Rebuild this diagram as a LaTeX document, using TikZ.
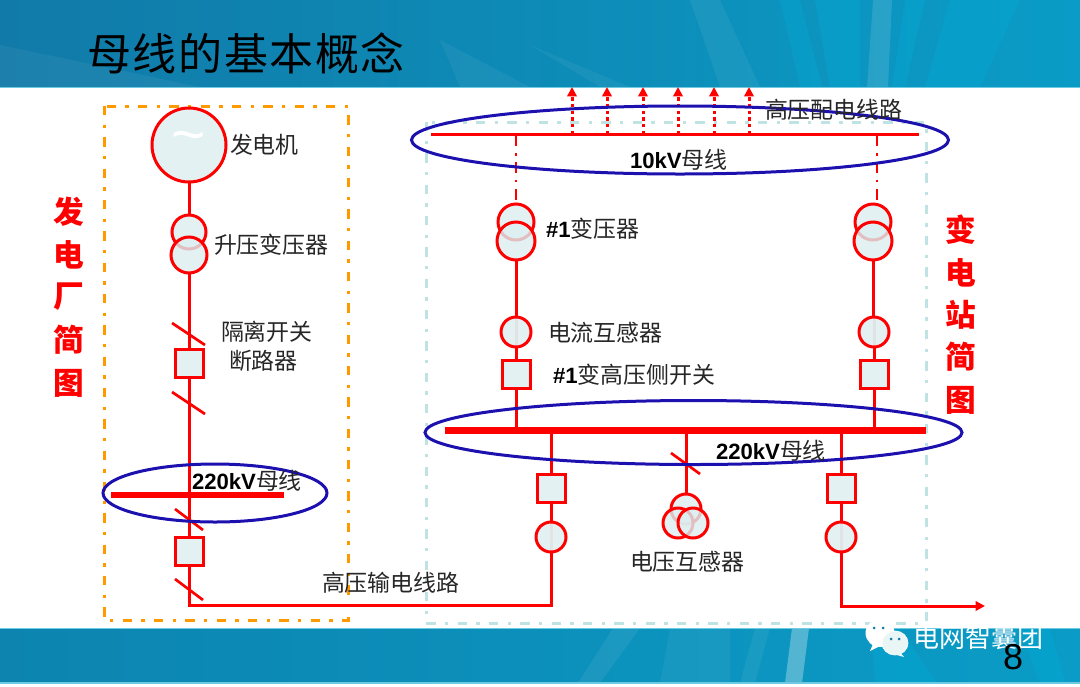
\documentclass[tikz,border=0pt]{standalone}
\usepackage{fontspec}
\setmainfont{Liberation Sans}
\newfontfamily\cjk{Noto Sans CJK SC}
\usetikzlibrary{shapes.geometric,arrows.meta,backgrounds}
\definecolor{elred}{HTML}{FF0000}
\definecolor{elblue}{HTML}{1C10AE}
\definecolor{elorange}{HTML}{FF9900}
\definecolor{elteal}{HTML}{BFE3E3}
\definecolor{elfill}{HTML}{DCEEF0}
\definecolor{bandA}{HTML}{117AA8}
\definecolor{bandB}{HTML}{0A9CC6}
\definecolor{bandC}{HTML}{0D84B0}
\definecolor{bandD}{HTML}{00B0DA}
\definecolor{bandE}{HTML}{6CCBE2}
\def\u{0.75pt}
\newcommand{\sz}[1]{\fontsize{#1}{#1}\selectfont}
\newcommand{\cj}[1]{{\cjk\mdseries\fontsize{17.2}{17.2}\selectfont\color{black!85}#1}}
\tikzset{
  x=0.75pt,y=-0.75pt,
  wire/.style={draw=elred,line width=2.25pt},
  faint/.style={draw=elred,line width=2.25pt,opacity=.3},
  tick/.style={draw=elred,line width=2pt},
  ringa/.style={circle,draw=elred,fill=elfill,fill opacity=.8,line width=2.25pt,inner sep=0pt,outer sep=0pt,minimum size=2*#1*\u},
  sqbox/.style={rectangle,draw=elred,fill=elfill,fill opacity=.8,line width=2.25pt,inner sep=0pt,outer sep=0pt,minimum size=28*\u},
  busbar/.style={rectangle,fill=elred,inner sep=0pt,outer sep=0pt},
  ring/.style={ellipse,draw=elblue,line width=2.25pt,inner sep=0pt,outer sep=0pt},
  lbl/.style={anchor=west,inner sep=0pt,outer sep=0pt,font=\sz{17.2}\cjk,text=black!85},
  blbl/.style={anchor=west,inner sep=0pt,outer sep=0pt,font=\sz{16.6}\bfseries,text=black},
  side/.style={inner sep=0pt,outer sep=0pt,font=\sz{23}\cjk\bfseries,text=elred},
  feeder/.style={draw=elred,line width=2.25pt,dash pattern=on 2.5pt off 2.5pt,-{Triangle[length=7pt,width=7pt]}},
  drop/.style={draw=elred,line width=2.2pt,dash pattern=on 8pt off 5pt on 2pt off 5pt},
  framebox/.style={line width=2.25pt,dash pattern=on 7pt off 7pt on 2.5pt off 7pt},
  rayl/.style={fill=bandD,fill opacity=.3},
  rayw/.style={fill=white,fill opacity=.12},
}
\begin{document}
\begin{tikzpicture}
\useasboundingbox (0,0) rectangle (1080,686);
% node layer ---------------------------------------------------------
\node[ringa=37] (gen) at (189,145) {};
\node[font=\sz{44},text=white,inner sep=0pt] (tilde) at (189,143) {\textasciitilde};
\node[ringa=17] (la) at (189,232) {};
\node[ringa=18] (lb) at (189,255) {};
\node[sqbox] (ls1) at (189,363) {};
\node[sqbox] (ls2) at (189,551) {};
\node[busbar,minimum width=173*\u,minimum height=6*\u] (lbus) at (197.5,495) {};
\node[ringa=18] (ra) at (516,222) {};
\node[ringa=19] (rb) at (516,241) {};
\node[ringa=18] (sa) at (873,222) {};
\node[ringa=19] (sb) at (873,241) {};
\node[ringa=15] (rc) at (516,332) {};
\node[ringa=15] (sc) at (874,332) {};
\node[sqbox] (rs) at (516,374) {};
\node[sqbox] (ss) at (874,374) {};
\node[busbar,minimum width=488*\u,minimum height=3*\u] (tbus) at (675,134) {};
\node[busbar,minimum width=481*\u,minimum height=7*\u] (hbus) at (685.5,430) {};
\node[sqbox] (fs) at (551,488) {};
\node[sqbox] (gs) at (841,488) {};
\node[ringa=15] (fc) at (551,537) {};
\node[ringa=15] (gc) at (841,537) {};
\node[ringa=15] (pt) at (686,509) {};
\node[ringa=15] (pl) at (678,523) {};
\node[ringa=15] (pr) at (693,523) {};
\coordinate (lcorner) at (189,605);
\coordinate (fcorner) at (551,605);
\coordinate (gcorner) at (841,606);
\coordinate (gend) at (985,606);
% enclosing ovals
\node[ring,minimum width=224*\u,minimum height=58*\u] (ovalL) at (215,493) {};
\node[ring,minimum width=537*\u,minimum height=68*\u] (ovalT) at (680,140) {};
\node[ring,minimum width=537*\u,minimum height=64*\u] (ovalH) at (693.5,432.5) {};
% labels
\node[lbl] (t1) at (230,145) {发电机};
\node[lbl] (t2) at (214,245) {升压变压器};
\node[lbl] (t3) at (221,332) {隔离开关};
\node[lbl] (t4) at (229,361) {断路器};
\node[blbl] (t5) at (192,481) {220kV\cj{母线}};
\node[lbl] (t6) at (322,583) {高压输电线路};
\node[lbl] (t7) at (765,110) {高压配电线路};
\node[blbl] (t8) at (630,160) {10kV\cj{母线}};
\node[blbl] (t9) at (546,229) {\#1\cj{变压器}};
\node[lbl] (t10) at (548,333) {电流互感器};
\node[blbl] (t11) at (553,375) {\#1\cj{变高压侧开关}};
\node[blbl] (t12) at (716,451) {220kV\cj{母线}};
\node[lbl] (t13) at (630,562) {电压互感器};
\foreach \c/\yy/\n in {发/212/a,电/255/b,厂/297/c,简/340/d,图/383/e}
  \node[side] (sl\n) at (69,\yy) {\c};
\foreach \c/\yy/\n in {变/230/a,电/273/b,站/315/c,简/357/d,图/400/e}
  \node[side] (sr\n) at (961,\yy) {\c};
% background layer ---------------------------------------------------
\begin{scope}[on background layer]
  % header band
  \shade[left color=bandA,middle color=bandA,right color=bandB] (0,0) rectangle (1080,87);
  \fill[rayw,fill opacity=.05] (0,45) -- (200,87) -- (0,87) -- cycle;
  \fill[rayw,fill opacity=.05] (440,40) -- (530,87) -- (460,87) -- cycle;
  \fill[rayw,fill opacity=.05] (530,45) -- (600,87) -- (630,87) -- cycle;
  \fill[rayw,fill opacity=.06] (690,0) -- (720,0) -- (760,87) -- (720,87) -- cycle;
  \fill[rayl] (780,0) -- (800,0) -- (822,87) -- (800,87) -- cycle;
  \fill[rayl] (815,0) -- (860,0) -- (860,87) -- (830,87) -- cycle;
  \fill[rayw] (873,0) -- (892,0) -- (888,87) -- (867,87) -- cycle;
  \fill[rayl] (905,0) -- (925,0) -- (905,87) -- (892,87) -- cycle;
  \fill[rayl] (950,0) -- (1020,0) -- (980,87) -- (925,87) -- cycle;
  % footer band
  \shade[left color=bandC,middle color=bandA,right color=bandB] (0,628) rectangle (1080,683);
  \fill[rayw,fill opacity=.07] (613,628) -- (640,628) -- (600,683) -- (578,683) -- cycle;
  \fill[rayw,fill opacity=.05] (670,628) -- (730,628) -- (730,683) -- (660,683) -- cycle;
  \fill[rayw,fill opacity=.06] (755,628) -- (770,628) -- (755,683) -- (740,683) -- cycle;
  \fill[rayw,fill opacity=.3] (792,628) -- (809,628) -- (802,683) -- (785,683) -- cycle;
  \fill[rayl] (871,628) -- (899,628) -- (937,683) -- (875,683) -- cycle;
  \fill[rayl] (1020,628) -- (1050,628) -- (1065,683) -- (1040,683) -- cycle;
  % thin light edges of the bands
  \fill[bandE] (0,86.5) rectangle (1080,88);
  \fill[bandE] (0,627.5) rectangle (1080,629);
  \fill[bandE] (0,682) rectangle (1080,683.5);
  % boxes
  \draw[elorange,framebox] (104,106) rectangle (348,620);
  \draw[elteal,framebox] (426,122) rectangle (926,623);
  % connectors
  \draw[wire] (gen.south) -- (la.north);
  \draw[wire] (lb.south) -- (ls1.north);
  \draw[wire] (ls1.south) -- (ls1.south |- lbus.north);
  \draw[wire] (ls1.south |- lbus.south) -- (ls2.north);
  \draw[wire,line join=miter] (ls2.south) -- (lcorner) -- (fcorner) -- (fc.south);
  \draw[tick] (172,323) -- (205,345);
  \draw[tick] (172,392) -- (205,414);
  \draw[tick] (175,509) -- (203,530);
  \draw[tick] (175,579) -- (203,600);
  \draw[wire] (rb.south) -- (rc.north);
  \draw[faint] (rc.north) -- (rc.south);
  \draw[wire] (rc.south) -- (rs.north);
  \draw[wire] (rs.south) -- (rs.south |- hbus.north);
  \draw[wire] (sb.south) -- (sc.north -| sb.south);
  \draw[faint] (sc.north) -- (sc.south);
  \draw[wire] (sc.south) -- (ss.north);
  \draw[wire] (ss.south) -- (ss.south |- hbus.north);
  \draw[drop] (tbus.south -| ra.north) -- (ra.north);
  \coordinate (sdrop) at (877,205);
  \draw[drop] (tbus.south -| sdrop) -- (sdrop);
  \draw[wire] (fs.north) -- (fs.north |- hbus.south);
  \draw[wire] (fs.south) -- (fc.north);
  \draw[faint] (fc.north) -- (fc.south);
  \draw[wire] (gs.north) -- (gs.north |- hbus.south);
  \draw[wire] (gs.south) -- (gc.north);
  \draw[faint] (gc.north) -- (gc.south);
  \draw[wire,line join=miter,-{Triangle[length=7pt,width=7pt]}] (gc.south) -- (gcorner) -- (gend);
  \draw[wire] (hbus.south -| pt.north) -- (pt.north);
  \draw[tick] (671,453) -- (700,474);
  \foreach \xx in {572,607,643,678,714,749}
    \draw[feeder] (\xx,134) -- (\xx,87);
\end{scope}
% title, watermark, page number
\node[inner sep=0pt,anchor=west,font=\sz{33}\cjk,text=black] (title) at (87,53) {母\hspace{1.2pt}线\hspace{1.2pt}的\hspace{1.2pt}基\hspace{1.2pt}本\hspace{1.2pt}概\hspace{1.2pt}念};
\node[inner sep=0pt,anchor=west,font=\sz{19.5}\cjk,text=white] (wm) at (913,638) {电网智囊团};
\node[inner sep=0pt,font=\sz{27},text=black] (pg) at (1013,657) {8};
% WeChat mark
\fill[white] (880,633) ellipse [x radius=14.5,y radius=14];
\fill[white] (873,644) -- (870,651) -- (880,646) -- cycle;
\fill[elfill!60,draw=white,line width=.5pt] (895,643) ellipse [x radius=13,y radius=12];
\fill[elfill!60] (900,652) -- (904,657) -- (893,654) -- cycle;
\fill[bandA] (874,628) circle (1.5) (883,628) circle (1.5) (891,639) circle (1.5) (899,639) circle (1.5);
\end{tikzpicture}
\end{document}
